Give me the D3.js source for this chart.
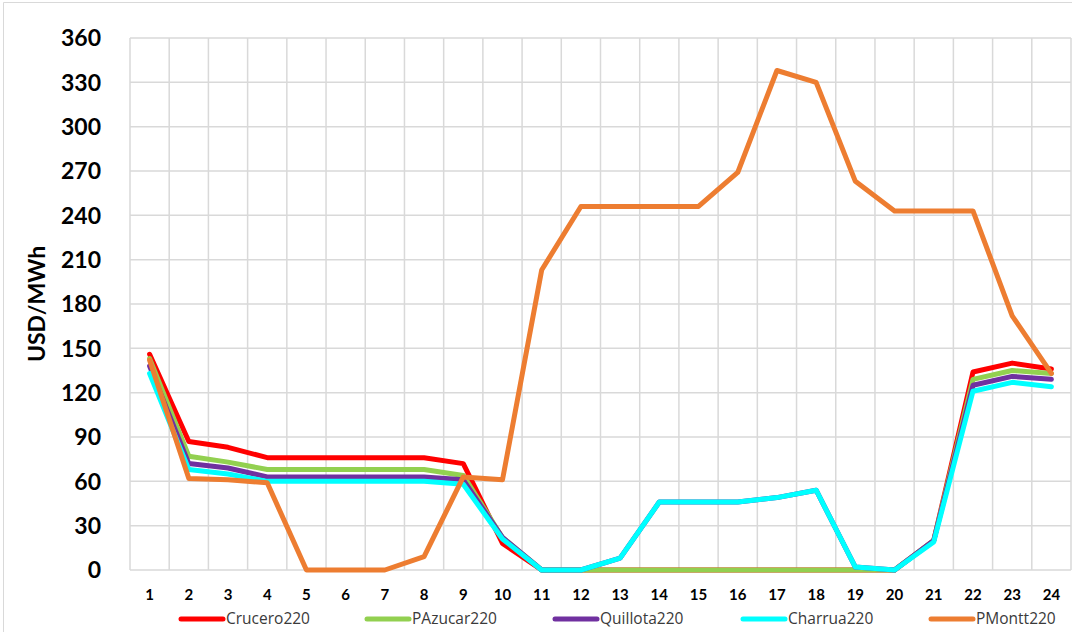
<!DOCTYPE html>
<html>
<head>
<meta charset="utf-8">
<script src="https://d3js.org/d3.v7.min.js"></script>
<style>
  html, body { margin: 0; padding: 0; background: #fff; overflow: hidden; }
  svg { display: block; width: 100vw; height: 100vh; }
  .ytick { font-family: Lato, "Liberation Sans", sans-serif; font-weight: bold; font-size: 23px; fill: #000; }
  .xtick { font-family: Lato, "Liberation Sans", sans-serif; font-weight: bold; font-size: 15px; fill: #000; }
  .legend text { font-family: "Open Sans", "Liberation Sans", sans-serif; font-size: 15.5px; fill: #3a3a3a; }
</style>
</head>
<body>
<svg viewBox="0 0 1072 632" data-width="1072" data-height="632"></svg>
<script>
const hours = d3.range(1, 25).map(String);
const yTicks = [0, 30, 60, 90, 120, 150, 180, 210, 240, 270, 300, 330, 360];

const seriesNames = ['Crucero220', 'PAzucar220', 'Quillota220', 'Charrua220', 'PMontt220'];
const seriesColors = ['#ff0000', '#92d050', '#7030a0', '#00ffff', '#ed7d31'];

const crucero  = [146, 87, 83, 76, 76, 76, 76, 76, 72, 18, 0, 0, 0, 0, 0, 0, 0, 0, 0, 0, 20, 134, 140, 136];
const pazucar  = [143, 77, 73, 68, 68, 68, 68, 68, 64, 22, 0, 0, 0, 0, 0, 0, 0, 0, 0, 0, 20, 129, 135, 133];
const quillota = [138, 72, 69, 63, 63, 63, 63, 63, 61, 22, 0, 0, 8, 46, 46, 46, 49, 54, 2, 0, 20, 125, 131, 129];
const charrua  = [133, 68, 65, 60, 60, 60, 60, 60, 58, 21, 0, 0, 8, 46, 46, 46, 49, 54, 2, 0, 19, 121, 127, 124];
const pmontt   = [142, 62, 61, 59, 0, 0, 0, 9, 63, 61, 203, 246, 246, 246, 246, 269, 338, 330, 263, 243, 243, 243, 172, 133];

const seriesValues = [crucero, pazucar, quillota, charrua, pmontt];

const svg = d3.select('svg');
const width = +svg.attr('data-width');
const height = +svg.attr('data-height');

// chart frame (left and top edges show in the picture)
svg.append('path')
    .attr('d', `M3.5,${height} V2.5 H${width}`)
    .attr('fill', 'none')
    .attr('stroke', '#d9d9d9');

const margin = { top: 38, right: 1, bottom: 62, left: 130 };
const innerWidth = width - margin.left - margin.right;
const innerHeight = height - margin.top - margin.bottom;

const g = svg.append('g')
    .attr('transform', `translate(${margin.left},${margin.top})`);

const xscale = d3.scaleBand()
    .domain(hours)
    .range([0, innerWidth])
    .padding(0);

const yscale = d3.scaleLinear()
    .domain([0, 360])
    .range([innerHeight, 0]);

// horizontal gridlines
g.append('g').selectAll('line').data(yTicks)
    .enter().append('line')
        .attr('x1', 0).attr('x2', innerWidth)
        .attr('y1', d => yscale(d)).attr('y2', d => yscale(d))
        .attr('stroke', '#d9d9d9')
        .attr('stroke-width', 1.5);

// vertical gridlines at category boundaries
const bounds = hours.map(h => xscale(h)).concat([innerWidth]);
g.append('g').selectAll('line').data(bounds)
    .enter().append('line')
        .attr('x1', d => d).attr('x2', d => d)
        .attr('y1', 0).attr('y2', innerHeight)
        .attr('stroke', '#d9d9d9')
        .attr('stroke-width', 1.5);

// y labels
g.append('g').selectAll('text').data(yTicks)
    .enter().append('text')
        .attr('class', 'ytick')
        .attr('x', -29)
        .attr('y', d => yscale(d))
        .attr('dy', '0.36em')
        .attr('text-anchor', 'end')
        .text(d => d);

// x labels
g.append('g').selectAll('text').data(hours)
    .enter().append('text')
        .attr('class', 'xtick')
        .attr('x', d => xscale(d) + xscale.bandwidth() / 2)
        .attr('y', innerHeight + 25)
        .attr('dy', '0.35em')
        .attr('text-anchor', 'middle')
        .text(d => d);

// lines
const line = d3.line()
    .x((d, i) => xscale(hours[i]) + xscale.bandwidth() / 2)
    .y(d => yscale(d));

g.selectAll('path.series').data(seriesValues)
    .enter().append('path')
        .attr('class', 'series')
        .attr('d', d => line(d))
        .attr('fill', 'none')
        .attr('stroke', (d, i) => seriesColors[i])
        .attr('stroke-width', 5)
        .attr('stroke-linejoin', 'round')
        .attr('stroke-linecap', 'round');

// legend
const legendX = [181, 367, 555, 743, 931];
const legend = svg.append('g').attr('class', 'legend');
seriesNames.forEach((name, i) => {
    legend.append('line')
        .attr('x1', legendX[i]).attr('x2', legendX[i] + 42)
        .attr('y1', 619).attr('y2', 619)
        .attr('stroke', seriesColors[i])
        .attr('stroke-width', 5)
        .attr('stroke-linecap', 'round');
    legend.append('text')
        .attr('x', legendX[i] + 45)
        .attr('y', 619)
        .attr('dy', '0.35em')
        .text(name);
});

// y axis title
svg.append('text')
    .attr('transform', `translate(45,${margin.top + innerHeight / 2}) rotate(-90)`)
    .attr('text-anchor', 'middle')
    .style('font-family', 'Lato, "Liberation Sans", sans-serif')
    .style('font-weight', 'bold')
    .style('font-size', '23px')
    .text('USD/MWh');
</script>
</body>
</html>
